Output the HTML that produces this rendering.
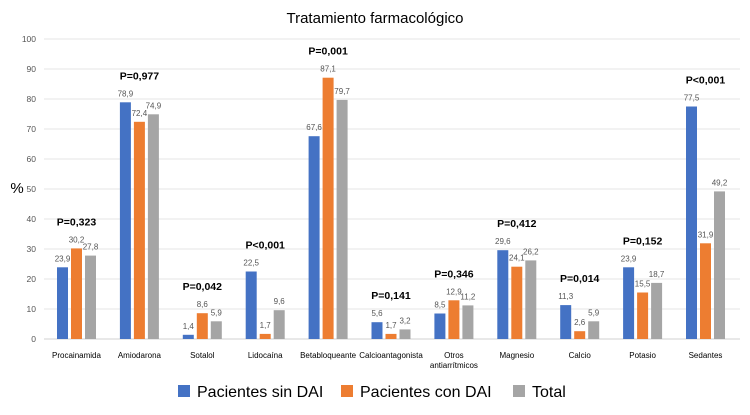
<!DOCTYPE html>
<html><head><meta charset="utf-8"><style>
body{margin:0;background:#fff;font-family:"Liberation Sans",sans-serif}
</style></head><body>
<svg id="c" width="750" height="415" style="display:block"></svg>
<script>
const categories=["Procainamida","Amiodarona","Sotalol","Lidocaína","Betabloqueante","Calcioantagonista","Otros antiarrítmicos","Magnesio","Calcio","Potasio","Sedantes"];
const sinDAI=[23.9,78.9,1.4,22.5,67.6,5.6,8.5,29.6,11.3,23.9,77.5];
const conDAI=[30.2,72.4,8.6,1.7,87.1,1.7,12.9,24.1,2.6,15.5,31.9];
const total=[27.8,74.9,5.9,9.6,79.7,3.2,11.2,26.2,5.9,18.7,49.2];
const pvals=["P=0,323","P=0,977","P=0,042","P<0,001","P=0,001","P=0,141","P=0,346","P=0,412","P=0,014","P=0,152","P<0,001"];
const yTicks=[0,10,20,30,40,50,60,70,80,90,100];
const NS="http://www.w3.org/2000/svg",svg=document.getElementById('c');
const y=v=>339-v*3.0;
const cx=i=>76.5+i*62.9;
function mk(t,a,txt){const e=document.createElementNS(NS,t);for(const k in a)e.setAttribute(k,a[k]);if(txt!=null)e.textContent=txt;svg.appendChild(e);return e;}
let e=mk('text',{x:375,y:23,'text-anchor':'middle','font-size':15,fill:'#000'},'Tratamiento farmacológico');

yTicks.forEach(t=>{
 let g=mk('line',{x1:44,x2:740,y1:y(t),y2:y(t),stroke:t?'#e6e6e6':'#d0d0d0'});
 
 let l=mk('text',{x:36,y:y(t)+3,'text-anchor':'end','font-size':8.5,fill:'#555'},t);
 
});
e=mk('text',{x:17,y:193,'text-anchor':'middle','font-size':15,fill:'#000'},'%');

const series=[[sinDAI,'#4472c4',-14],[conDAI,'#ed7d31',0],[total,'#a5a5a5',14]];
categories.forEach((c,i)=>{
 series.forEach(([d,col,off])=>{
  const x=cx(i)+off-5.5;
  let b=mk('rect',{x:x,y:y(d[i]),width:11,height:339-y(d[i]),fill:col});
  
  let t=mk('text',{x:x+5.5,y:y(d[i])-6,'text-anchor':'middle','font-size':8,fill:'#555'},String(d[i]).replace('.',','));
  
 });
 const mx=Math.max(sinDAI[i],conDAI[i],total[i]);
 let p=mk('text',{x:cx(i),y:y(mx)-23,'text-anchor':'middle','font-size':10.5,'font-weight':'bold',fill:'#000'},pvals[i]);
 
 const parts=c==="Otros antiarrítmicos"?["Otros","antiarrítmicos"]:[c];
 parts.forEach((s,k)=>{
  let l=mk('text',{x:cx(i),y:358+k*10,'text-anchor':'middle','font-size':8,fill:'#000'},s);
  
 });
});
const leg=[["Pacientes sin DAI",'#4472c4',178],["Pacientes con DAI",'#ed7d31',341],["Total",'#a5a5a5',513]];
leg.forEach(([n,col,x])=>{
 let r=mk('rect',{x:x,y:385,width:12,height:12,fill:col});
 
 let t=mk('text',{x:x+19,y:397,'font-size':16,fill:'#000'},n);
 
});
</script>
</body></html>
